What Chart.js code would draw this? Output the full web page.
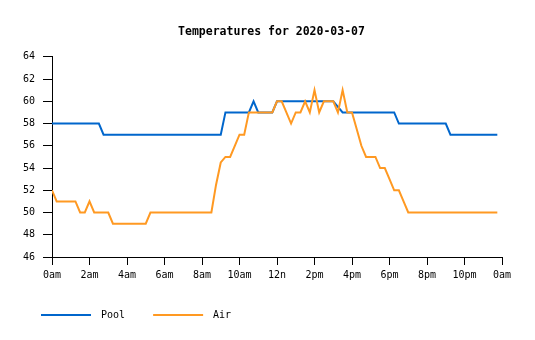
<!DOCTYPE html>
<html>
<head>
<meta charset="utf-8">
<script src="https://cdn.jsdelivr.net/npm/chart.js@4/dist/chart.umd.min.js"></script>
<style>
  body { margin: 0; background: #fff; }
  #wrap { width: 535px; height: 340px; }
</style>
</head>
<body>
<div id="wrap"><canvas id="myChart"></canvas></div>
<script>
var chartTitle = 'Temperatures for 2020-03-07';
var seriesNames = ['Pool', 'Air'];
var xTickLabels = ['0am', '2am', '4am', '6am', '8am', '10am', '12n', '2pm', '4pm', '6pm', '8pm', '10pm', '0am'];
var yTicks = [46, 48, 50, 52, 54, 56, 58, 60, 62, 64];
var sampleMinutes = 15;

// one reading every 15 minutes, 00:00 .. 23:45
var poolTemps = [
  58, 58, 58, 58, 58, 58, 58, 58, 58, 58, 58, 57,
  57, 57, 57, 57, 57, 57, 57, 57, 57, 57, 57, 57,
  57, 57, 57, 57, 57, 57, 57, 57, 57, 57, 57, 57,
  57, 59, 59, 59, 59, 59, 59, 60, 59, 59, 59, 59,
  60, 60, 60, 60, 60, 60, 60, 60, 60, 60, 60, 60,
  60, 59.5, 59, 59, 59, 59, 59, 59, 59, 59, 59, 59,
  59, 59, 58, 58, 58, 58, 58, 58, 58, 58, 58, 58,
  58, 57, 57, 57, 57, 57, 57, 57, 57, 57, 57, 57
];
var airTemps = [
  52, 51, 51, 51, 51, 51, 50, 50, 51, 50, 50, 50,
  50, 49, 49, 49, 49, 49, 49, 49, 49, 50, 50, 50,
  50, 50, 50, 50, 50, 50, 50, 50, 50, 50, 50, 52.5,
  54.5, 55, 55, 56, 57, 57, 59, 59, 59, 59, 59, 59,
  60, 60, 59, 58, 59, 59, 60, 59, 61, 59, 60, 60,
  60, 59, 61, 59, 59, 57.5, 56, 55, 55, 55, 54, 54,
  53, 52, 52, 51, 50, 50, 50, 50, 50, 50, 50, 50,
  50, 50, 50, 50, 50, 50, 50, 50, 50, 50, 50, 50
];

function toPoints(values) {
  var pts = [];
  for (let i = 0; i < values.length; i++) {
    pts.push({ x: i * sampleMinutes / 60, y: values[i] });
  }
  return pts;
}

// legend swatch: a short line with a gap before the text
function legendLine(color) {
  var c = document.createElement('canvas');
  c.width = 73;
  c.height = 4;
  var g = c.getContext('2d');
  g.fillStyle = color;
  g.fillRect(18, 1, 50, 2);
  return c;
}

var monoFont = "'DejaVu Sans Mono', 'Liberation Mono', monospace";
Chart.defaults.font.family = monoFont;
Chart.defaults.font.size = 10;
Chart.defaults.color = '#000';

var ctx = document.getElementById('myChart').getContext('2d');
var myChart = new Chart(ctx, {
  type: 'line',
  data: {
    datasets: [{
      label: seriesNames[0],
      data: toPoints(poolTemps),
      borderColor: '#0066cc',
      backgroundColor: '#0066cc',
      borderWidth: 2,
      pointRadius: 0,
      tension: 0,
      order: 1
    }, {
      label: seriesNames[1],
      data: toPoints(airTemps),
      borderColor: '#ff9922',
      backgroundColor: '#ff9922',
      borderWidth: 2,
      pointRadius: 0,
      tension: 0,
      order: 0
    }]
  },
  options: {
    responsive: true,
    maintainAspectRatio: false,
    animation: false,
    layout: { padding: { left: 13, right: 5, top: 0, bottom: 10 } },
    plugins: {
      title: {
        display: true,
        text: chartTitle,
        color: '#000',
        font: { family: monoFont, size: 11.5, weight: 'bold' },
        padding: { top: 25, bottom: 18 }
      },
      legend: {
        position: 'bottom',
        align: 'start',
        labels: {
          usePointStyle: true,
          pointStyleWidth: 73,
          padding: 10,
          color: '#000',
          font: { family: monoFont, size: 10 },
          sort: function (a, b) { return a.datasetIndex - b.datasetIndex; },
          generateLabels: function (chart) {
            var items = Chart.defaults.plugins.legend.labels.generateLabels(chart);
            items.forEach(function (it) { it.pointStyle = legendLine(it.strokeStyle); });
            return items;
          }
        }
      },
      tooltip: { enabled: false }
    },
    scales: {
      x: {
        type: 'linear',
        min: 0,
        max: 24,
        afterFit: function (s) { s.height = 43; },
        border: { color: '#000', width: 1 },
        grid: { drawOnChartArea: false, color: '#000', tickLength: 8 },
        ticks: {
          stepSize: 2,
          padding: 4,
          maxRotation: 0,
          color: '#000',
          callback: function (v) { return xTickLabels[Math.round(v / 2)]; }
        }
      },
      y: {
        min: yTicks[0],
        max: yTicks[yTicks.length - 1],
        afterFit: function (s) { s.width = 39; },
        border: { color: '#000', width: 1 },
        grid: { drawOnChartArea: false, color: '#000', tickLength: 9 },
        ticks: { stepSize: 2, padding: 8, color: '#000' }
      },
      // empty spacer on the right so the plot ends where the reference does
      yRight: {
        type: 'linear',
        position: 'right',
        afterFit: function (s) { s.width = 28; },
        border: { display: false },
        grid: { display: false },
        ticks: { display: false }
      }
    }
  }
});
</script>
</body>
</html>
